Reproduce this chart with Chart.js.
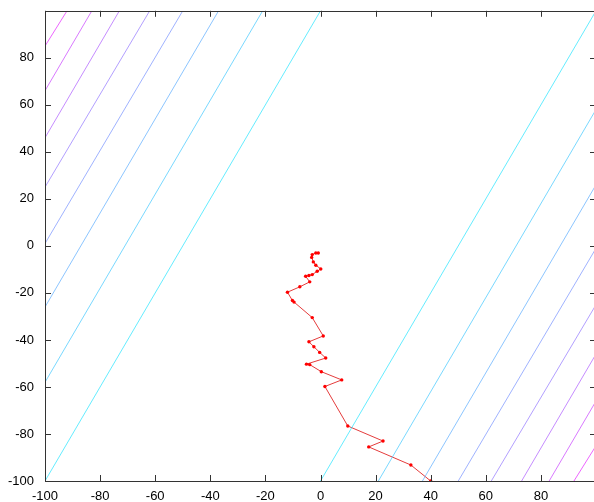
<!DOCTYPE html>
<html>
<head>
<meta charset="utf-8">
<script src="https://cdn.jsdelivr.net/npm/chart.js@4/dist/chart.umd.min.js"></script>
<style>
  html, body { margin: 0; padding: 0; background: #fff; overflow: hidden; }
  canvas { display: block; }
</style>
</head>
<body>
<canvas id="chart" width="600" height="502"></canvas>
<script>
// tick values on both axes
const xTicks = [-100, -80, -60, -40, -20, 0, 20, 40, 60, 80];
const yTicks = [-100, -80, -60, -40, -20, 0, 20, 40, 60, 80];

// contour lines upper-left of the valley (left edge -> top edge), inner to outer
const leftX0 = [-100, -100, -100, -100, -100, -100, -100, -100];
const leftY0 = [-100, -58, -26, 1, 25, 46, 66, 85];
const leftX1 = [0, -21, -37, -50, -62, -73, -83, -92];
const leftY1 = [100, 100, 100, 100, 100, 100, 100, 100];

// contour lines lower-right of the valley (bottom edge -> right edge), inner to outer
const rightX0 = [0, 21, 37, 50, 62, 73, 83, 92];
const rightY0 = [-100, -100, -100, -100, -100, -100, -100, -100];
const rightX1 = [100, 100, 100, 100, 100, 100, 100, 100];
const rightY1 = [100, 58, 26, -1, -25, -46, -66, -85];

// optimisation path (red)
const pathX = [40, 32.8, 17.5, 22.7, 9.9, 1.6, 7.7, 0.3, -3.9, -5.1, 1.9, -0.3, -2.4, -4.2, 1.0,
  -3.0, -9.6, -10.2, -12.0, -7.5, -3.9, -5.4, -4.2, -3.0, -1.2, 0.1, -1.7, -2.6, -3.2, -3.0, -1.7, -0.8];
const pathY = [-100, -93.2, -85.5, -83.0, -76.6, -59.8, -57.0, -53.5, -50.5, -50.3, -47.7, -45.3, -42.9, -40.8, -38.3,
  -30.5, -23.9, -23.2, -19.7, -17.4, -15.3, -12.9, -12.6, -12.2, -10.8, -9.8, -8.2, -6.8, -4.9, -3.7, -3.0, -3.0];

// "cool" colormap, one colour per contour level (inner = cyan, outer = magenta)
function coolColor(i) {
  const t = (i + 1) / 9;
  return `rgba(${Math.round(255 * t)}, ${Math.round(255 * (1 - t))}, 255, 0.68)`;
}

const datasets = [];
for (let i = 0; i < leftX0.length; i++) {
  datasets.push({
    data: [{ x: leftX0[i], y: leftY0[i] }, { x: leftX1[i], y: leftY1[i] }],
    borderColor: coolColor(i), borderWidth: 1, showLine: true, pointRadius: 0
  });
}
for (let i = 0; i < rightX0.length; i++) {
  datasets.push({
    data: [{ x: rightX0[i], y: rightY0[i] }, { x: rightX1[i], y: rightY1[i] }],
    borderColor: coolColor(i), borderWidth: 1, showLine: true, pointRadius: 0
  });
}
datasets.push({
  data: pathX.map((x, i) => ({ x, y: pathY[i] })),
  borderColor: "rgb(228, 60, 60)", borderWidth: 1, showLine: true,
  pointRadius: 1.7, pointBackgroundColor: "#f00", pointBorderColor: "#f00", pointBorderWidth: 0
});

// matlab style box with inward tick marks on all four sides
const boxTicks = {
  id: "boxTicks",
  afterDatasetsDraw(chart) {
    const { ctx, chartArea: a, scales } = chart;
    const len = 6;
    ctx.save();
    ctx.strokeStyle = "#333";
    ctx.lineWidth = 1;
    ctx.beginPath();
    ctx.rect(Math.round(a.left) + 0.5, Math.round(a.top) + 0.5,
      Math.round(a.right - a.left), Math.round(a.bottom - a.top));
    for (const v of xTicks) {
      const px = Math.round(scales.x.getPixelForValue(v)) + 0.5;
      ctx.moveTo(px, a.bottom); ctx.lineTo(px, a.bottom - len);
      ctx.moveTo(px, a.top); ctx.lineTo(px, a.top + len);
    }
    for (const v of yTicks) {
      const py = Math.round(scales.y.getPixelForValue(v)) + 0.5;
      ctx.moveTo(a.left, py); ctx.lineTo(a.left + len, py);
      ctx.moveTo(a.right, py); ctx.lineTo(a.right - len, py);
    }
    ctx.stroke();
    ctx.restore();
  }
};

const font = { family: "Arial, 'Liberation Sans', sans-serif", size: 13 };

new Chart(document.getElementById("chart"), {
  type: "scatter",
  data: { datasets },
  options: {
    responsive: false,
    animation: false,
    layout: { padding: { top: 8, right: 2, left: 0, bottom: 0 } },
    plugins: { legend: { display: false }, tooltip: { enabled: false } },
    scales: {
      x: {
        type: "linear", min: -100, max: 100,
        grid: { display: false }, border: { display: false },
        afterBuildTicks: (s) => { s.ticks = xTicks.map(v => ({ value: v })); },
        afterFit: (s) => { s.height = 21; },
        ticks: { color: "#000", font, padding: 0, maxRotation: 0, autoSkip: false }
      },
      y: {
        type: "linear", min: -100, max: 100,
        grid: { display: false }, border: { display: false },
        afterBuildTicks: (s) => { s.ticks = yTicks.map(v => ({ value: v })); },
        afterFit: (s) => { s.width = 45; },
        ticks: { color: "#000", font, padding: 3, autoSkip: false }
      }
    }
  },
  plugins: [boxTicks]
});
</script>
</body>
</html>
